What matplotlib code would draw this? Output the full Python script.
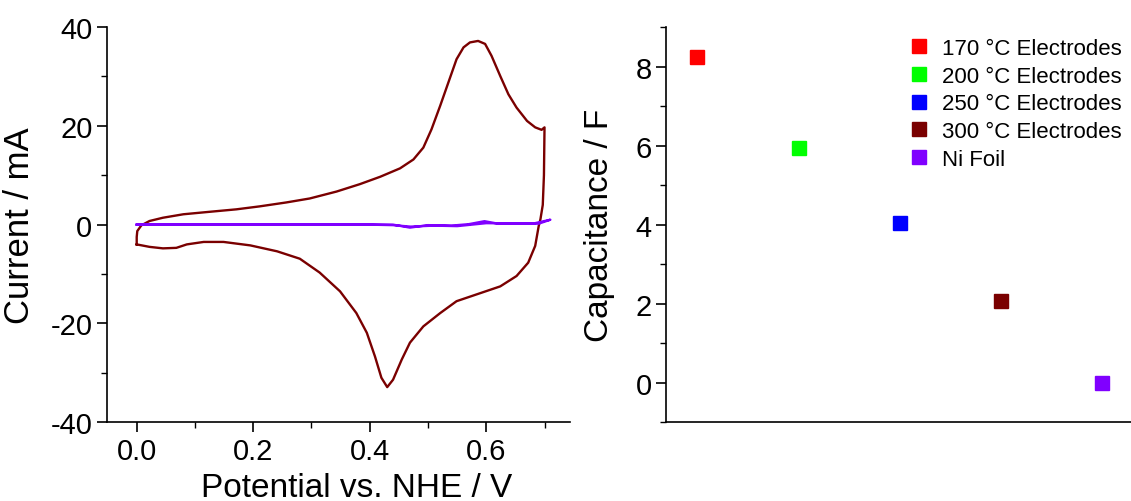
import matplotlib.pyplot as plt
from matplotlib.ticker import MultipleLocator

plt.rcParams['font.family'] = ['Liberation Sans', 'DejaVu Sans']
plt.rcParams['axes.unicode_minus'] = False

# CV curve of the electrode (potential in V, current in mA)
cv_potential = [0.0, 0.0, 0.001, 0.008, 0.022, 0.045, 0.080, 0.125, 0.171, 0.211,
                0.257, 0.297, 0.343, 0.383, 0.418, 0.452, 0.475, 0.492, 0.506, 0.521,
                0.535, 0.549, 0.561, 0.572, 0.586, 0.598, 0.609, 0.624, 0.638, 0.652,
                0.670, 0.684, 0.695, 0.700,
                0.699, 0.697, 0.693, 0.690, 0.684, 0.672, 0.652, 0.624, 0.589, 0.549,
                0.521, 0.492, 0.469, 0.455, 0.440, 0.430, 0.420, 0.409, 0.395, 0.377,
                0.349, 0.314, 0.280, 0.241, 0.195, 0.149, 0.115, 0.086, 0.068, 0.045,
                0.022, 0.0]
cv_current = [-4.0, -2.5, -1.3, -0.14, 0.74, 1.4, 2.1, 2.6, 3.1, 3.7,
              4.5, 5.3, 6.7, 8.2, 9.7, 11.4, 13.2, 15.6, 19.3, 24.1,
              28.8, 33.5, 35.9, 36.9, 37.2, 36.6, 34.2, 30.1, 26.4, 23.7,
              21.0, 19.7, 19.2, 19.7,
              10.0, 4.0, 1.1, -0.3, -4.3, -7.7, -10.4, -12.5, -13.9, -15.5,
              -17.9, -20.6, -23.9, -27.3, -31.4, -32.9, -31.0, -26.7, -21.9, -17.9,
              -13.5, -9.7, -6.9, -5.4, -4.2, -3.5, -3.5, -4.0, -4.7, -4.8,
              -4.5, -4.0]

# Ni foil CV
ni_potential = [0.0, 0.44, 0.469, 0.50, 0.54, 0.57, 0.597, 0.62, 0.68, 0.71,
                0.69, 0.60, 0.55, 0.51, 0.47, 0.44, 0.40, 0.0]
ni_current = [0.0, 0.0, -0.6, -0.1, -0.2, 0.1, 0.7, 0.2, 0.2, 1.0,
              0.2, 0.3, -0.3, -0.2, -0.4, -0.1, 0.0, 0.0]

# capacitance per sample
samples = ['170 °C Electrodes', '200 °C Electrodes', '250 °C Electrodes',
           '300 °C Electrodes', 'Ni Foil']
capacitance = [8.25, 5.95, 4.05, 2.08, 0.0]
colors = ['#ff0000', '#00ff00', '#0000ff', '#7a0000', '#8000ff']

fig = plt.figure(figsize=(11.31, 5.02), dpi=100)
ax1 = fig.add_axes([0.0946, 0.157, 0.409, 0.787])
ax2 = fig.add_axes([0.589, 0.157, 0.411, 0.787])

# left panel: CV curves
ax1.plot(cv_potential, cv_current, color='#7a0000', lw=1.7, solid_joinstyle='round')
ax1.plot(ni_potential, ni_current, color='#8000ff', lw=1.7, solid_joinstyle='round')
ax1.set_xlim(-0.051, 0.743)
ax1.set_ylim(-40, 40)
ax1.xaxis.set_major_locator(MultipleLocator(0.2))
ax1.xaxis.set_minor_locator(MultipleLocator(0.1))
ax1.yaxis.set_major_locator(MultipleLocator(20))
ax1.yaxis.set_minor_locator(MultipleLocator(10))
ax1.xaxis.set_major_formatter(lambda v, p: f'{v:.1f}')
ax1.set_xlabel('Potential vs. NHE / V', fontsize=24)
ax1.set_ylabel('Current / mA', fontsize=25)
ax1.xaxis.set_label_coords(0.54, -0.125)
ax1.yaxis.set_label_coords(-0.153, 0.5)

# right panel: capacitance markers
for i in range(len(samples)):
    ax2.plot(i + 1, capacitance[i], 's', color=colors[i], markersize=9.5,
             label=samples[i])
ax2.set_xlim(0.69, 5.29)
ax2.set_ylim(-1, 9)
ax2.set_xticks([])
ax2.yaxis.set_major_locator(MultipleLocator(2))
ax2.yaxis.set_minor_locator(MultipleLocator(1))
ax2.set_ylabel('Capacitance / F', fontsize=24)
ax2.yaxis.set_label_coords(-0.11, 0.5)
ax2.legend(loc='upper right', bbox_to_anchor=(1.0, 0.995), frameon=False,
           fontsize=16, handletextpad=0.55, labelspacing=0.3, handlelength=1.0,
           borderaxespad=0.0)

for ax in (ax1, ax2):
    ax.spines['top'].set_visible(False)
    ax.spines['right'].set_visible(False)
    ax.spines['left'].set_linewidth(1.2)
    ax.spines['bottom'].set_linewidth(1.2)
    ax.tick_params(which='major', direction='out', length=7, width=1.2, labelsize=21)
    ax.tick_params(which='minor', direction='out', length=4, width=1.0)

fig.savefig('out.png', dpi=100)
